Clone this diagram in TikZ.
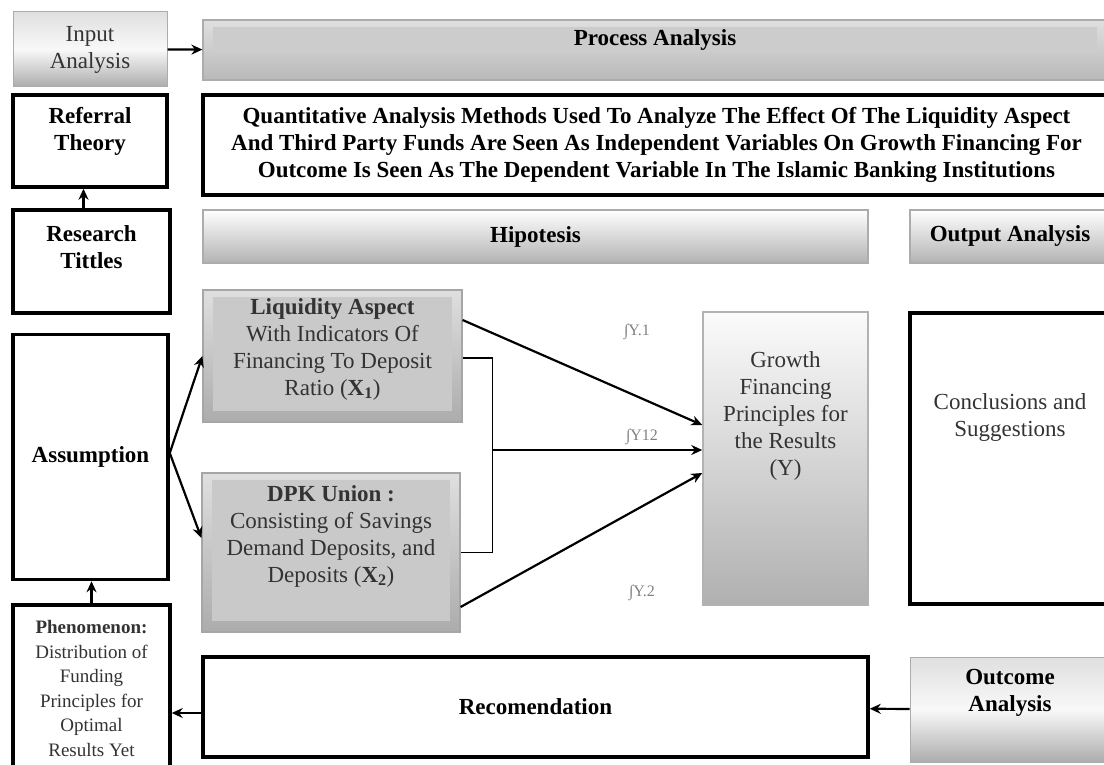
\documentclass[tikz,border=0pt]{standalone}
\usepackage{fontspec}
\setmainfont{Liberation Serif}
\usetikzlibrary{arrows.meta}

\newcommand\boxfont{\fontsize{23}{27}\selectfont}
\newcommand\phenfont{\fontsize{19}{24.5}\selectfont}
\newcommand\coeffont{\fontsize{16}{18}\selectfont}

\begin{document}
\begin{tikzpicture}[x=1pt, y=-1pt,
    wh/.style 2 args = {minimum width=#1pt, minimum height=#2pt, inner sep=0pt},
    txt/.style = {align=center, font=\boxfont, text=black!80},
    btxt/.style = {align=center, font=\boxfont\bfseries},
    arr/.style = {-{Stealth[length=11pt, width=10pt]}, line width=2.2pt},
    thickbox/.style = {draw, line width=3.5pt, fill=white},
    steelbox/.style = {draw=gray!65, line width=1pt, top color=gray!25, bottom color=gray!65, middle color=gray!5},
    softbar/.style = {draw=gray!65, line width=1.2pt, top color=white, bottom color=gray!60},
    procbar/.style = {draw=gray!65, line width=1.2pt, top color=gray!25, bottom color=gray!55,
        path picture={\fill[gray!40] ([shift={(10pt,-7pt)}]path picture bounding box.north west)
            rectangle ([shift={(-13pt,28pt)}]path picture bounding box.south east);}},
    greyblock/.style = {draw=gray!70, line width=1.2pt, top color=gray!25, bottom color=gray!65,
        path picture={\fill[gray!42] ([shift={(10pt,-7pt)}]path picture bounding box.north west)
            rectangle ([shift={(-10pt,11pt)}]path picture bounding box.south east);}},
    growthbox/.style = {draw=gray!60, line width=1.5pt, top color=gray!3, bottom color=gray!62},
    coef/.style = {font=\coeffont, text=black!50}]

    \useasboundingbox (0,0) rectangle (1104,765);
    \clip (0,0) rectangle (1104,765);

    % left column
    \node[steelbox, wh={154}{75}, txt] (input) at (90,49.5) {Input\\Analysis};
    \node[thickbox, wh={154}{92}] (referral) at (90,141) {};
    \node[btxt] (referral-t) at (90,131) {Referral\\Theory};
    \node[thickbox, wh={157}{103}] (research) at (91.5,261.5) {};
    \node[btxt] (research-t) at (91.5,247.5) {Research\\Tittles};
    \node[thickbox, wh={155}{245}, btxt] (assump) at (90.5,457) {Assumption};
    \node[thickbox, wh={157}{167}, align=center, font=\phenfont, text=black!80] (phen) at (91.5,688.5)
        {\textbf{Phenomenon:}\\Distribution of\\Funding\\Principles for\\Optimal\\Results Yet};

    % top rows
    \node[procbar, wh={907}{60}] (process) at (656.5,50) {};
    \node[btxt] (process-t) at (655,40) {Process Analysis};
    \node[thickbox, wh={907}{100}, btxt] (quant) at (656.5,145)
        {Quantitative Analysis Methods Used To Analyze The Effect Of The Liquidity Aspect\\
         And Third Party Funds Are Seen As Independent Variables On Growth Financing For\\
         Outcome Is Seen As The Dependent Variable In The Islamic Banking Institutions};
    \node[softbar, wh={665}{53}, btxt] (hipo) at (535.5,236.5) {Hipotesis};
    \node[softbar, wh={200}{53}, btxt] (output) at (1010,236.5) {Output Analysis};

    % variables
    \node[greyblock, wh={259}{132}] (liq) at (332.5,356) {};
    \node[txt] (liq-t) at (332.5,349) {\textbf{Liquidity Aspect}\\With Indicators Of\\Financing To Deposit\\Ratio (\textbf{X\textsubscript{1}})};
    \node[greyblock, wh={258}{159}] (dpk) at (331,552.5) {};
    \node[txt] (dpk-t) at (331,536) {\textbf{DPK Union :}\\Consisting of Savings\\Demand Deposits, and\\Deposits (\textbf{X\textsubscript{2}})};
    \node[growthbox, wh={165}{293}] (growth) at (785.5,458.5) {};
    \node[txt] (growth-t) at (785.5,416) {Growth\\Financing\\Principles for\\the Results\\(Y)};
    \node[thickbox, wh={200}{291}] (concl) at (1010,458.5) {};
    \node[txt] (concl-t) at (1010,417.5) {Conclusions and\\Suggestions};

    \node[coef] (c1) at (637,332) {∫Y.1};
    \node[coef] (c12) at (642,437) {∫Y12};
    \node[coef] (c2) at (642,593) {∫Y.2};

    % bottom row
    \node[thickbox, wh={665}{100}, btxt] (recom) at (535.5,707) {Recomendation};
    \node[steelbox, wh={200}{105}] (outcome) at (1010,709.5) {};
    \node[btxt] (outcome-t) at (1010,693) {Outcome\\Analysis};

    \coordinate (fork) at (492,450);

    \draw[arr] (input) -- (process);
    \draw[arr] ([xshift=-8pt]research.north) -- ([xshift=-8pt]research.north |- referral.south);
    \draw[arr] (phen.north) -- (phen.north |- assump.south);
    \draw[arr] ([yshift=4pt]assump.east) -- (liq.west);
    \draw[arr] ([yshift=4pt]assump.east) -- ([yshift=14.5pt]dpk.west);
    \draw[arr] ([yshift=36pt]liq.east) -- ([yshift=33.5pt]growth.west);
    \draw[arr] ([yshift=-54.5pt]dpk.east) -- ([yshift=-14.5pt]growth.west);
    \draw[line width=1.6pt] ([yshift=-2pt]liq.east) -- ++(30,0) |- (dpk.east);
    \draw[arr] (fork) -- (fork -| growth.west);
    \draw[arr] (outcome) -- (recom);
    \draw[arr] ([yshift=-6pt]recom.west) -- ([yshift=-6pt]recom.west -| phen.east);
\end{tikzpicture}
\end{document}
